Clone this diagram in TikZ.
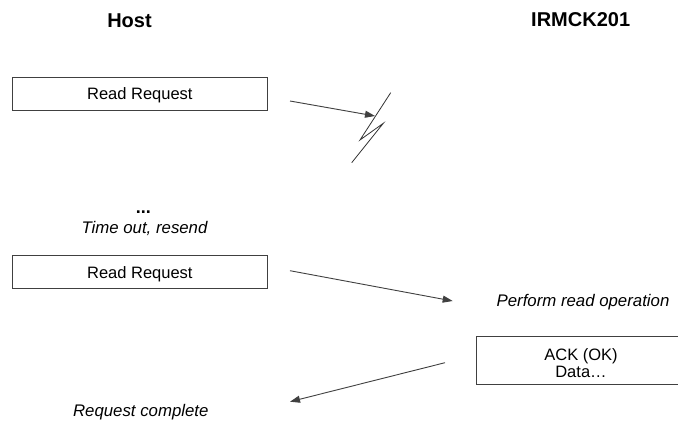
\documentclass[tikz,border=0pt]{standalone}
\usepackage{fontspec}
\setmainfont{Liberation Sans}
\usetikzlibrary{arrows.meta}
\begin{document}
\begin{tikzpicture}[x=1pt,y=-1pt,
  title/.style={font=\fontsize{20}{22}\selectfont\bfseries, inner sep=0pt, anchor=base},
  txt/.style={font=\fontsize{16.5}{16.7}\selectfont, inner sep=0pt},
  itxt/.style={font=\fontsize{16.8}{18}\selectfont\itshape, inner sep=0pt, anchor=base},
  msgbox/.style={draw=black!75, line width=0.9pt, font=\fontsize{16.5}{18}\selectfont, inner sep=0pt, text height=12pt, text depth=0pt},
  msg/.style={draw=black!75, line width=0.9pt, -{Triangle[length=10pt,width=7pt]}},
  bolt/.style={draw=black!80, line width=0.8pt}
]
\useasboundingbox (0,0) rectangle (678,423);
\clip (0,0) rectangle (678,423);
\fill[white] (0,0) rectangle (678,423);

\node[title] (host) at (129.5,27.3) {Host};
\node[title] (irmck) at (580.7,26.7) {IRMCK201};

\node[msgbox, minimum width=254.3pt, minimum height=32.7pt] (rr1) at (139.85,93.65) {Read Request};

\coordinate (a1s) at (290,101);
\coordinate (a1e) at (375,116);
\draw[msg] (a1s) -- (a1e);

\coordinate (b1) at (390.7,92.7);
\coordinate (b2) at (360,140);
\coordinate (b3) at (383.3,123.3);
\coordinate (b4) at (351.7,162.7);
\draw[bolt] (b1) -- (b2) -- (b3) -- (b4);

\node[title, font=\fontsize{18}{20}\selectfont\bfseries] (dots) at (143.3,213) {...};
\node[itxt] (timeout) at (144.5,233) {Time out, resend};

\node[msgbox, minimum width=254.3pt, minimum height=32.6pt] (rr2) at (139.85,272) {Read Request};

\coordinate (a2s) at (290,270.7);
\coordinate (a2e) at (452.7,301);
\draw[msg] (a2s) -- (a2e);

\node[itxt] (perform) at (583,306) {Perform read operation};

\node[draw=black!75, line width=0.9pt, minimum width=210pt, minimum height=48pt, inner sep=0pt] (ackbox) at (581,360) {};
\node[txt, align=center] (ack) at (581,363) {ACK (OK)\\Data\dots};

\coordinate (a3s) at (445,362.7);
\coordinate (a3e) at (290,401.7);
\draw[msg] (a3s) -- (a3e);

\node[itxt] (done) at (140.8,416.7) {Request complete};
\end{tikzpicture}
\end{document}
